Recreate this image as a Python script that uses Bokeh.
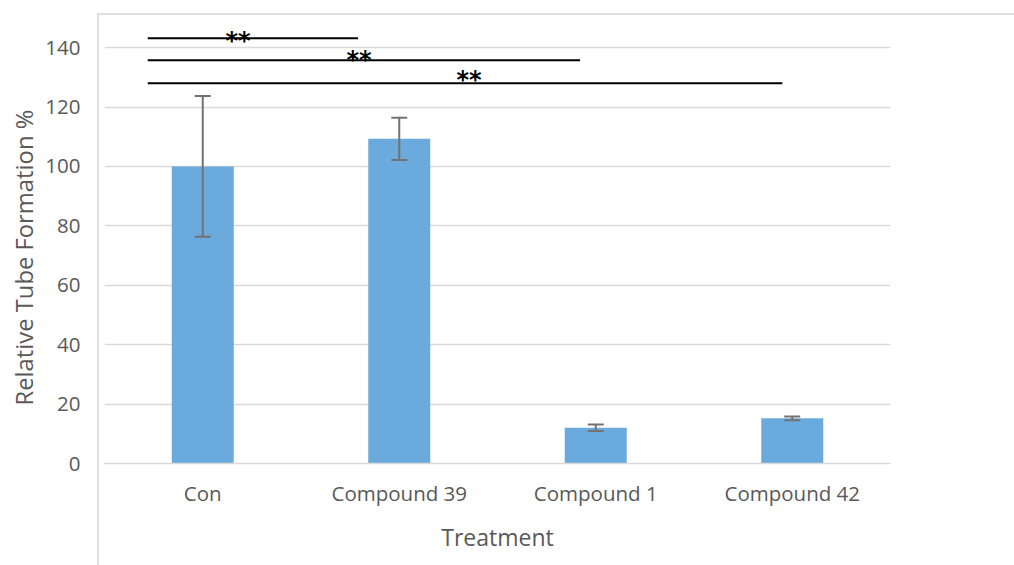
import numpy as np
from bokeh.plotting import figure
from bokeh.models import (ColumnDataSource, FactorRange, Range1d, FixedTicker,
                          Whisker, TeeHead)
from bokeh.core.properties import value
from bokeh.embed import file_html
from bokeh.resources import INLINE

# ---------------- data ----------------
categories = ["Con", "Compound 39", "Compound 1", "Compound 42"]
means = [100.0, 109.3, 12.0, 15.2]
errors = [23.7, 7.1, 1.1, 0.6]
y_ticks = [0, 20, 40, 60, 80, 100, 120, 140]

# significance brackets (x in category units measured from the axis start)
sig_x_start = [0.22, 0.22, 0.22]
sig_x_end = [1.29, 2.42, 3.45]
sig_y = [143.2, 135.8, 128.0]
sig_label_x = [0.68, 1.295, 1.855]
sig_label_y = [143.3, 136.8, 130.0]
sig_labels = ["**", "**", "**"]

x_title = "Treatment"
y_title = "Relative Tube Formation %"

# ---------------- styles ----------------
TEXT = "#595959"
GRID = "#d9d9d9"
BAR = "#6aaadc"
ERR = "#727272"
FONT = "Open Sans"

src = ColumnDataSource(dict(
    cat=categories,
    mean=means,
    upper=[m + e for m, e in zip(means, errors)],
    lower=[m - e for m, e in zip(means, errors)],
))

p = figure(x_range=FactorRange(*categories), y_range=Range1d(0, 151.5),
           width=1014, height=565, output_backend="svg", toolbar_location=None,
           min_border_left=104, min_border_right=124, min_border_top=13,
           min_border_bottom=102, title_location="left")

# transparent canvas; the host element paints white plus the chart-area border
p.background_fill_alpha = 0
p.border_fill_alpha = 0
p.outline_line_color = None
p.styles = {
    "background": ("linear-gradient(#dedede,#dedede) 97px 13px / 2px 100% no-repeat, "
                   "linear-gradient(#dedede,#dedede) 97px 13px / 100% 2px no-repeat, "
                   "#ffffff")
}

# y-axis title (as a left-side title so it can sit over the 0-140 span)
p.title.text = y_title
p.title.align = "left"
p.title.offset = 58
p.title.vertical_align = "bottom"
p.title.standoff = 6
p.title.text_font = FONT
p.title.text_font_size = "23.8px"
p.title.text_font_style = "normal"
p.title.text_color = TEXT

p.vbar(x="cat", top="mean", width=0.3155, source=src,
       fill_color=BAR, line_color=None)

wh = Whisker(base="cat", upper="upper", lower="lower", source=src,
             line_color=ERR, line_width=2, level="overlay",
             upper_head=TeeHead(size=16, line_color=ERR, line_width=2),
             lower_head=TeeHead(size=16, line_color=ERR, line_width=2))
p.add_layout(wh)

p.segment(x0=sig_x_start, y0=sig_y, x1=sig_x_end, y1=sig_y,
          line_color="black", line_width=2)
p.text(x=sig_label_x, y=sig_label_y, text=sig_labels,
       text_font=value("DejaVu Sans"), text_font_size="24px",
       text_font_style="bold", y_offset=3,
       text_align="center", text_baseline="alphabetic", text_color="black")

# y axis
p.yaxis.ticker = FixedTicker(ticks=y_ticks)
p.yaxis.axis_line_color = None
p.yaxis.major_tick_line_color = None
p.yaxis.minor_tick_line_color = None
p.yaxis.major_tick_out = 0
p.yaxis.major_tick_in = 0
p.yaxis.major_label_standoff = 24
p.yaxis.major_label_text_font = FONT
p.yaxis.major_label_text_font_size = "20.5px"
p.yaxis.major_label_text_color = TEXT

# x axis
p.xaxis.axis_line_color = GRID
p.xaxis.axis_line_width = 1.5
p.xaxis.major_tick_line_color = None
p.xaxis.minor_tick_line_color = None
p.xaxis.major_tick_out = 0
p.xaxis.major_tick_in = 0
p.xaxis.major_label_standoff = 15
p.xaxis.major_label_text_font = FONT
p.xaxis.major_label_text_font_size = "20.5px"
p.xaxis.major_label_text_color = TEXT
p.xaxis.axis_label = x_title
p.xaxis.axis_label_standoff = 11
p.xaxis.axis_label_text_font = FONT
p.xaxis.axis_label_text_font_size = "23px"
p.xaxis.axis_label_text_font_style = "normal"
p.xaxis.axis_label_text_color = TEXT

p.xgrid.grid_line_color = None
p.ygrid.grid_line_color = GRID
p.ygrid.grid_line_width = 1.5

open("out.html", "w").write(file_html(p, INLINE))
